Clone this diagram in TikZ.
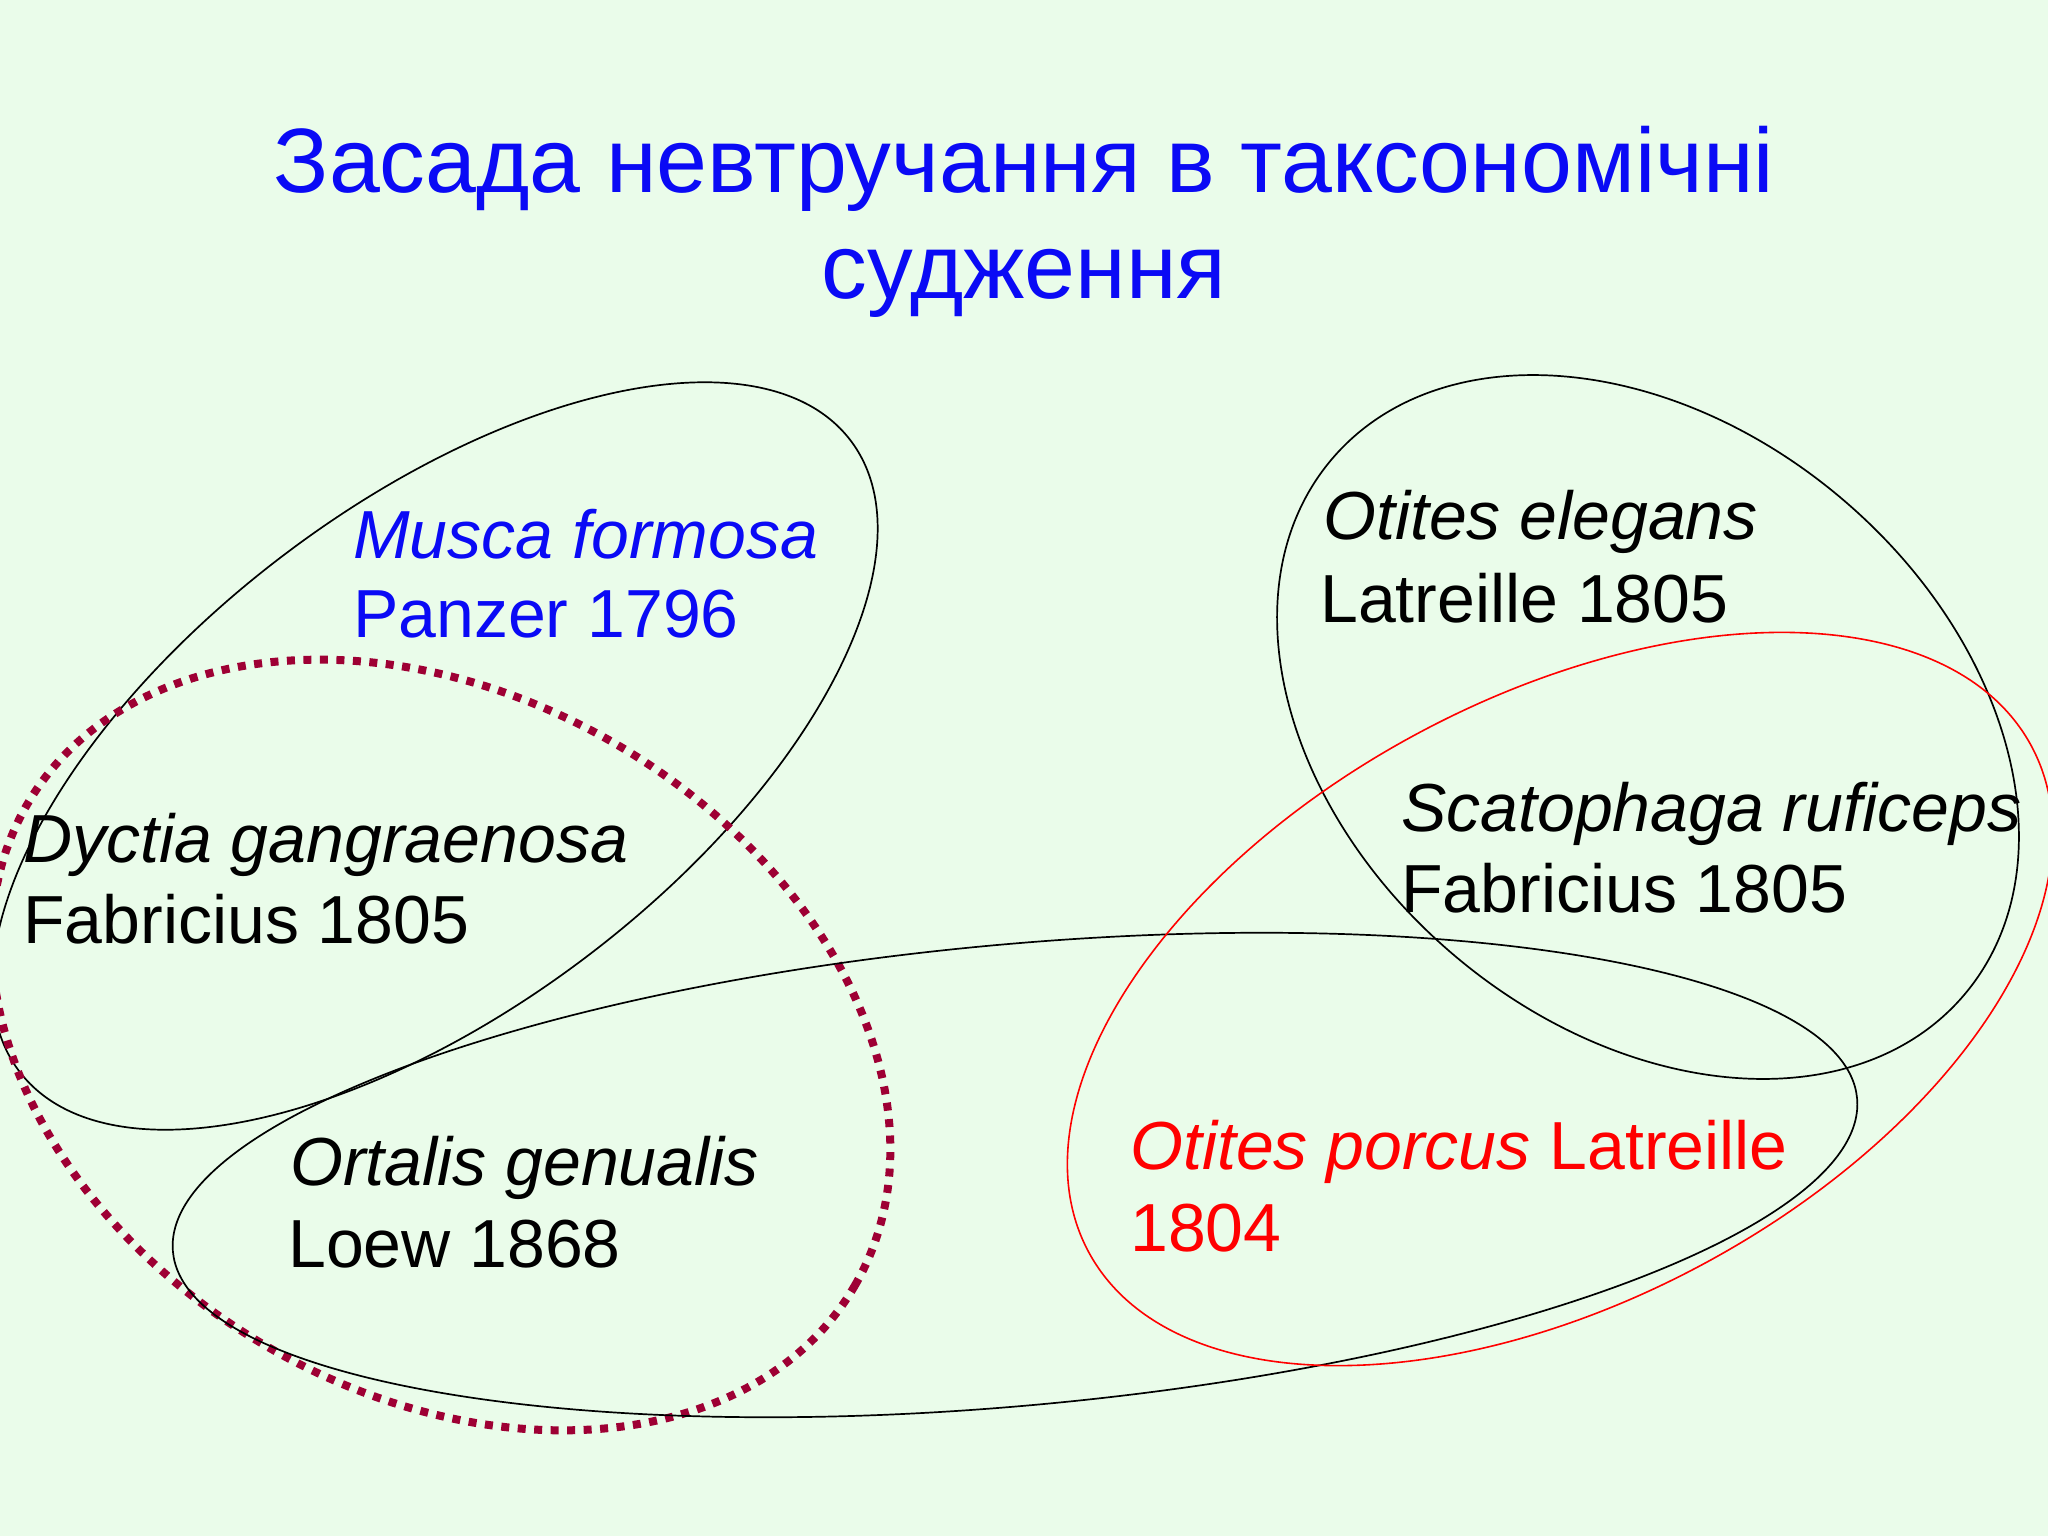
\documentclass[tikz,border=0pt]{standalone}
\usepackage{fontspec}
\setmainfont{Liberation Sans}
\definecolor{bgc}{RGB}{234,252,234}
\definecolor{titleblue}{RGB}{10,10,245}
\definecolor{dotred}{RGB}{158,0,52}
\begin{document}
\begin{tikzpicture}[x=1pt,y=-1pt,
  lbl/.style={inner sep=0pt, anchor=base west, font=\fontsize{68}{80}\selectfont},
  ttl/.style={inner sep=0pt, anchor=base, text=titleblue, font=\fontsize{91.5}{100}\selectfont},
  thinline/.style={draw=black, line width=1.7pt},
  redline/.style={draw=red, line width=1.6pt},
  dotline/.style={draw=dotred, line width=8pt, dash pattern=on 8pt off 8.5pt}]
\fill[bgc] (0,0) rectangle (2048,1536);
\useasboundingbox (0,0) rectangle (2048,1536);
% title
\node[ttl] (t1) at (1024,193) {Засада невтручання в таксономічні};
\node[ttl] (t2) at (1024,298) {судження};
% ellipses
\draw[thinline, rotate around={37.2:(435,756)}] (435,756) ellipse [x radius=521.8pt, y radius=251.5pt];
\draw[dotline, rotate around={-30.2:(441,1045)}] (441,1045) ellipse [x radius=478.7pt, y radius=348.1pt];
\draw[thinline, rotate around={5.2:(1015,1175)}] (1015,1175) ellipse [x radius=845.6pt, y radius=230.7pt];
\draw[thinline, rotate around={-40.2:(1648,727)}] (1648,727) ellipse [x radius=414.4pt, y radius=299.5pt];
\draw[redline, rotate around={28.2:(1560,999)}] (1560,999) ellipse [x radius=535pt, y radius=301.3pt];
% labels
\node[lbl, text=titleblue] (mus1) at (353,558) {\itshape Musca formosa};
\node[lbl, text=titleblue] (mus2) at (353,637) {Panzer 1796};
\node[lbl] (dyc1) at (23,862) {\itshape Dyctia gangraenosa};
\node[lbl] (dyc2) at (23,943) {Fabricius 1805};
\node[lbl] (ort1) at (290,1185) {\itshape Ortalis genualis};
\node[lbl] (ort2) at (288,1267) {Loew 1868};
\node[lbl] (ote1) at (1323,539) {\itshape Otites elegans};
\node[lbl] (ote2) at (1320,622) {Latreille 1805};
\node[lbl] (sca1) at (1401,831) {\itshape Scatophaga ruficeps};
\node[lbl] (sca2) at (1401,912) {Fabricius 1805};
\node[lbl, text=red] (otp1) at (1130,1169) {\itshape Otites porcus\upshape{} Latreille};
\node[lbl, text=red] (otp2) at (1130,1251) {1804};
\end{tikzpicture}
\end{document}
